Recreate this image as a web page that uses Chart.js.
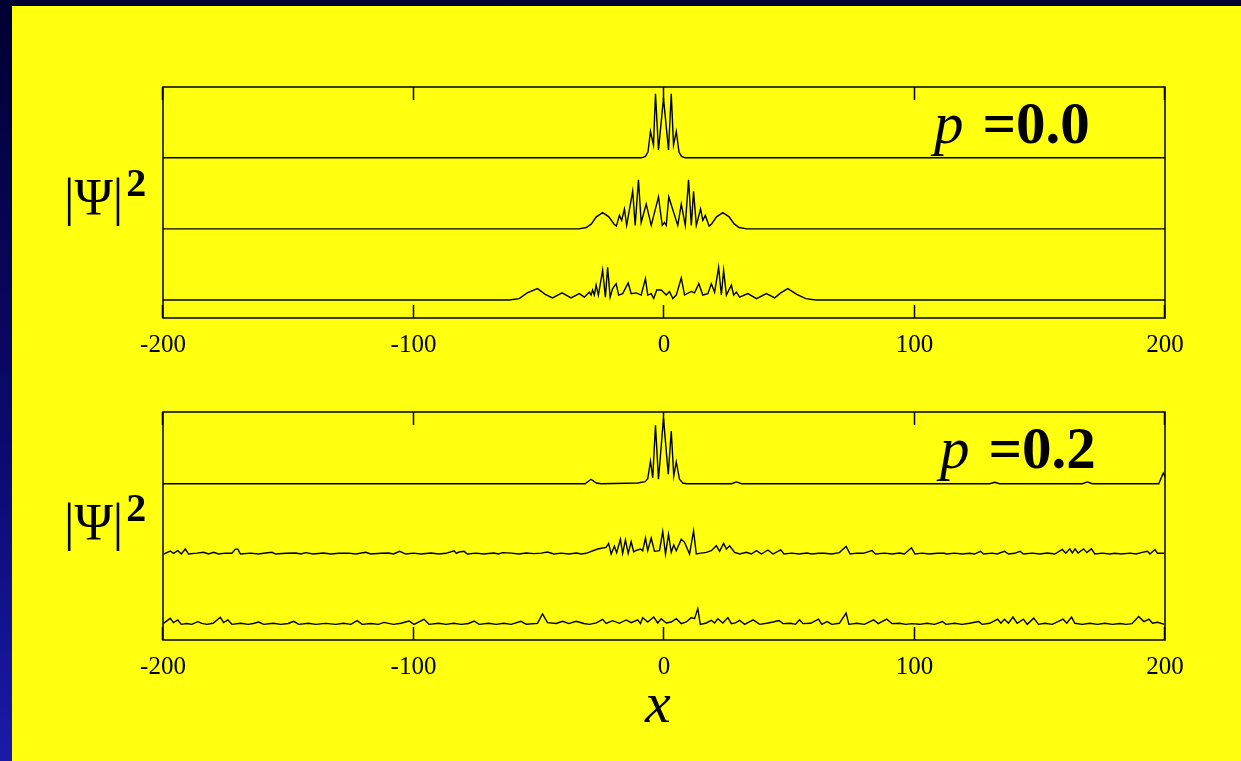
<!DOCTYPE html>
<html>
<head>
<meta charset="utf-8">
<script src="https://cdn.jsdelivr.net/npm/chart.js@4.4.1/dist/chart.umd.min.js"></script>
<style>
  html, body { margin: 0; padding: 0; }
  body {
    width: 1241px; height: 761px; overflow: hidden; position: relative;
    background: linear-gradient(to bottom, #000033 0%, #0a0a70 60%, #1a1aa8 100%);
    font-family: "Liberation Serif", "DejaVu Serif", serif;
  }
  #sheet { position: absolute; left: 12px; top: 6px; right: 0; bottom: 0; background: #ffff10; }
  canvas { position: absolute; left: 0; }
  .lbl { position: absolute; color: #000; white-space: nowrap; line-height: 1; }
  .psi { font-size: 52px; }
  .psi b { font-size: 40px; position: relative; top: -19px; margin-left: 3px; }
  .pval { font-size: 59px; }
  .pval i { margin-right: 19px; }
  .xlab { font-size: 58px; font-style: italic; }
</style>
</head>
<body>
<div id="sheet"></div>
<canvas id="top-chart" width="1241" height="380" style="top:0"></canvas>
<canvas id="bottom-chart" width="1241" height="381" style="top:380px"></canvas>

<div class="lbl psi" style="left:64px; top:172px">|Ψ|<b>2</b></div>
<div class="lbl psi" style="left:64px; top:497px">|Ψ|<b>2</b></div>
<div class="lbl pval" style="left:934px; top:94px"><i>p</i><b>=0.0</b></div>
<div class="lbl pval" style="left:940px; top:419px"><i>p</i><b>=0.2</b></div>
<div class="lbl xlab" style="left:645px; top:674px">x</div>

<script>
// ============================================================
// |Psi|^2 wave packets at three times, p = 0.0 and p = 0.2
// ============================================================

const X_TICKS = [-200, -100, 0, 100, 200];

// p = 0.0 (values relative to each curve's own baseline)
const p00_early = [[-200,0],[-9,0],[-7.4,0.02],[-6.4,0.08],[-5.4,0.37],[-4.2,0.18],[-3.4,0.9],[-2.2,0.11],[-0.2,0.84],[1.8,0.11],[2.9,0.9],[3.8,0.18],[4.9,0.37],[6.0,0.08],[7.0,0.02],[8.5,0],[200,0]];

const p00_mid = [[-200,0],[-34,0],[-31,0.02],[-29,0.07],[-27,0.17],[-24.5,0.23],[-22,0.17],[-20,0.07],[-19,0.04],[-17.8,0.19],[-16.9,0.12],[-15.8,0.28],[-14.9,0.05],[-12.5,0.53],[-11.5,0.05],[-10.2,0.69],[-9.1,0.09],[-7.1,0.35],[-5.1,0.05],[-2.2,0.45],[-0.7,0.05],[0.2,0.09],[0.9,0.05],[1.9,0.45],[5.5,0.05],[6.9,0.35],[8.5,0.05],[9.8,0.69],[10.9,0.05],[11.8,0.53],[12.9,0.05],[14.6,0.28],[15.5,0.12],[16.5,0.19],[18,0.04],[19,0.07],[21,0.17],[23.5,0.23],[26,0.17],[28,0.07],[30,0.02],[33,0],[200,0]];

const p00_late = [[-200,0],[-61.8,0],[-57.8,0.02],[-54.6,0.1],[-50.5,0.16],[-47.4,0.08],[-44.5,0.03],[-40.7,0.1],[-37.1,0.03],[-33.8,0.09],[-31.8,0.04],[-29.8,0.11],[-29.1,0.07],[-28.5,0.14],[-27.8,0.07],[-27.1,0.21],[-26.2,0.07],[-24.5,0.42],[-23.4,0.04],[-22.5,0.46],[-21.5,0.04],[-20.5,0.16],[-19.1,0.23],[-18.1,0.07],[-16.5,0.09],[-14.3,0.24],[-13.1,0.09],[-11.1,0.1],[-9.1,0.07],[-7.4,0.3],[-6.5,0.07],[-5.1,0.09],[-4.1,0.02],[-2.9,0.14],[-1.1,0.14],[0.9,0.07],[2.2,0.12],[3.5,0.02],[4.9,0.07],[6.9,0.31],[8.2,0.07],[10.9,0.12],[12.2,0.1],[13.9,0.23],[15.5,0.07],[17.5,0.09],[18.9,0.23],[20.2,0.11],[21.8,0.46],[22.9,0.07],[23.8,0.42],[24.9,0.07],[26.9,0.21],[27.8,0.07],[28.9,0.11],[30.2,0.04],[33.5,0.09],[36.9,0.02],[40.9,0.09],[44.2,0.03],[46.6,0.1],[49.4,0.16],[53,0.08],[56.6,0.02],[60.6,0],[200,0]];

// p = 0.2
const p02_early = [[-200,0],[-31.5,0],[-29.1,0.063],[-27,0.01],[-25,0],[-10.5,0.01],[-7.5,0.03],[-6.5,0.07],[-5.4,0.32],[-4.5,0.085],[-3.4,0.83],[-2.2,0.063],[-0.2,0.93],[1.7,0.134],[2.9,0.75],[3.9,0.11],[4.9,0.31],[6.2,0.063],[7.5,0.01],[9,0],[27,0],[28.9,0.025],[31,0],[130,0],[132,0.02],[134,0],[167,0],[169,0.025],[171,0],[197.5,0],[199.3,0.15],[200,0.1]];

const p02_mid = [[-199.8,0],[-197.1,0.043],[-195.8,0.01],[-194.1,0.047],[-192.7,0],[-191.1,0.071],[-189.8,0],[-186.5,0.012],[-183.8,0.024],[-181.8,0],[-179.8,0.024],[-177.8,0],[-175,0.012],[-172.5,0.01],[-171.1,0.07],[-170.1,0.07],[-169.1,0],[-165,0.012],[-162,0],[-159,0.015],[-156.5,0.024],[-155,0],[-151,0.01],[-147,0.015],[-145,0],[-143.1,0.02],[-140,0],[-136,0.015],[-133,0],[-129.8,0.01],[-126,0.012],[-123,0],[-119.1,0.024],[-117,0],[-113,0.01],[-110,0.015],[-108,0],[-105.5,0.038],[-103.1,0],[-100,0.012],[-97,0],[-93,0.015],[-90,0],[-87,0.01],[-83.8,0.047],[-82.9,0.01],[-81.8,0.028],[-79.8,0.038],[-78.5,0],[-75,0.012],[-72,0],[-68,0.015],[-66,0],[-64.5,0.02],[-61,0.012],[-58,0],[-55,0.015],[-52,0.005],[-49,0.012],[-46.5,0.028],[-44,0],[-41,0.012],[-38,0],[-35,0.015],[-33,0],[-31.1,0.01],[-26.5,0.071],[-23.1,0.095],[-22.1,0.15],[-21.1,0],[-19.8,0.11],[-18.9,0.02],[-17.4,0.21],[-16.5,0.01],[-15.4,0.2],[-14.3,0.01],[-13.1,0.175],[-12.1,0.03],[-11.4,0.047],[-9.4,0.071],[-8.5,0.047],[-7.4,0.227],[-6.5,0.047],[-5.1,0.227],[-3.8,0.038],[-1.8,0.047],[-0.5,0.32],[0.6,0],[1.8,0.28],[2.9,0.024],[3.9,0.13],[4.9,0.047],[6.9,0.21],[8.2,0.166],[10.2,0],[11.8,0.33],[12.9,0],[14.8,0.012],[16.9,0.024],[18.9,0.047],[20.9,0.118],[22.2,0.038],[23.8,0.152],[24.9,0.071],[26.2,0.118],[28.2,0.024],[30.2,0],[32.9,0.024],[34.9,0],[36.9,0.047],[38.9,0],[41.5,0.057],[43.5,0],[46.6,0.059],[47.9,0],[51,0.012],[54,0],[57,0.015],[59,0],[61.7,0.01],[64,0.01],[67,0],[70,0.02],[72.7,0.108],[74.3,0],[77,0.012],[79.6,0.01],[83,0.049],[84.4,0],[88,0.012],[91,0],[94,0.015],[96,0],[98.8,0.088],[100.2,0],[103,0.012],[106,0],[109,0.01],[111.8,0.01],[113,0],[116,0.012],[119,0],[122,0.01],[124,0],[126.3,0.039],[127.6,0],[131,0.012],[133,0],[135.9,0.039],[137.5,0],[140,0.01],[142.1,0.039],[143.5,0],[147,0.012],[150,0],[153,0.015],[156,0],[159,0.064],[160.4,0.01],[162,0.073],[163,0.015],[164.1,0.073],[165.3,0.015],[167.5,0.073],[168.8,0.02],[170.6,0.073],[172,0],[175,0.012],[178,0],[180,0.01],[182.6,0],[186,0.012],[188.5,0],[190.9,0.024],[193,0.039],[194,0],[196,0.064],[197,0.01],[199.8,0.01]];

const p02_late = [[-199.8,0.014],[-197.1,0.085],[-195.8,0.024],[-194.1,0.062],[-192.7,0],[-190.5,0.012],[-188.5,0],[-186.1,0.038],[-184.5,0.014],[-182.5,0],[-180,0.015],[-177.1,0.1],[-175.8,0.024],[-174.1,0.062],[-172.5,0],[-169,0.015],[-166,0],[-164,0.012],[-161.8,0.033],[-159.8,0],[-156,0.015],[-153,0],[-150,0.012],[-147.8,0.043],[-145.8,0],[-142,0.015],[-139,0],[-135.1,0.014],[-131,0],[-128,0.015],[-125,0],[-122.5,0.052],[-120.5,0],[-117,0.012],[-114,0],[-111.8,0.028],[-108,0],[-105,0.015],[-101.8,0.047],[-99.8,0],[-95.8,0.071],[-93.8,0],[-90,0.015],[-87,0],[-84,0.015],[-81,0],[-78,0.012],[-75.8,0.047],[-73.8,0],[-70,0.015],[-67,0],[-64,0.015],[-61,0],[-57.1,0.043],[-55,0],[-50.5,0.014],[-48.5,0.147],[-46.5,0.024],[-43,0.012],[-40.5,0.043],[-38,0.01],[-35.1,0.043],[-32,0.012],[-29.8,0],[-27,0.02],[-24.5,0.071],[-23.1,0.014],[-20.5,0.052],[-17.8,0.014],[-15.1,0.062],[-13.1,0.024],[-10.5,0.065],[-9.4,0.01],[-8.5,0.095],[-6.5,0.033],[-4.1,0.104],[-2.5,0.019],[-1.1,0.08],[0.9,0.019],[2.9,0.033],[4.9,0.08],[6.9,0.01],[8.9,0.033],[10.9,0.095],[12.2,0.08],[13.5,0.223],[14.5,0],[16.9,0.019],[18.9,0.057],[20.2,0.019],[21.5,0.08],[23.5,0.019],[25.5,0.095],[26.9,0.01],[28.5,0.02],[30.2,0.057],[32.2,0],[35.6,0.064],[38.2,0],[41,0.015],[43.5,0.033],[45.9,0.054],[47.5,0.01],[50.5,0.015],[52.5,0],[54.1,0.064],[55.5,0.01],[58.5,0.015],[61.7,0.073],[63,0],[65.1,0.039],[67,0],[70,0.015],[72.7,0.161],[73.8,0],[77,0.015],[80,0],[83.7,0.064],[85.5,0.01],[88.9,0.073],[91,0.01],[94,0.015],[96.5,0],[98.8,0.01],[102,0],[105,0.015],[108,0],[111.2,0.039],[112.5,0],[116,0.015],[119,0],[122,0.015],[125.6,0.039],[127,0],[130,0.015],[133.2,0.073],[134.5,0.015],[135.9,0.073],[137.5,0.015],[139.3,0.103],[141,0.015],[143.5,0.073],[145,0],[147.6,0.088],[149.5,0],[152,0.015],[155,0],[159.3,0.073],[160.8,0.015],[162.7,0.103],[164,0.015],[167,0],[170,0.015],[173,0],[176,0.015],[179,0],[182,0.012],[184.5,0],[186.8,0.01],[189.5,0.112],[191.6,0.039],[193.6,0.073],[195,0.015],[197,0.03],[199.8,0]];

// curves are stacked: earliest on top
const STACK_OFFSETS = [2, 1, 0];

const TICK_LEN = 13;

// box + inward tick marks, drawn from the x scale
const framePlugin = {
  id: 'frame',
  afterDraw(chart) {
    const { ctx, chartArea: a, scales } = chart;
    ctx.save();
    ctx.strokeStyle = '#000';
    ctx.lineWidth = 1.5;
    ctx.strokeRect(a.left, a.top, a.right - a.left, a.bottom - a.top);
    X_TICKS.forEach(v => {
      const px = Math.round(scales.x.getPixelForValue(v)) - 0.5;
      ctx.beginPath();
      ctx.moveTo(px, a.top);
      ctx.lineTo(px, a.top + TICK_LEN);
      ctx.moveTo(px, a.bottom);
      ctx.lineTo(px, a.bottom - TICK_LEN);
      ctx.stroke();
    });
    ctx.restore();
  }
};

function makePanel(canvasId, curves, yMin, yMax, padding) {
  const canvas = document.getElementById(canvasId);
  return new Chart(canvas, {
    type: 'line',
    data: {
      datasets: curves.map((pts, i) => ({
        data: pts.map(([x, y]) => ({ x, y: y + STACK_OFFSETS[i] })),
        borderColor: '#000',
        borderWidth: 1.4,
        pointRadius: 0,
        tension: 0,
        fill: false
      }))
    },
    options: {
      responsive: false,
      animation: false,
      layout: { padding },
      plugins: { legend: { display: false }, tooltip: { enabled: false } },
      scales: {
        x: {
          type: 'linear',
          min: -200,
          max: 200,
          afterBuildTicks: s => { s.ticks = X_TICKS.map(v => ({ value: v })); },
          afterFit: s => { s.height = 62; },
          grid: { display: false, drawTicks: false },
          border: { display: false },
          ticks: {
            color: '#000',
            padding: 12,
            maxRotation: 0,
            font: { family: 'Liberation Serif', size: 25 }
          }
        },
        y: { display: false, min: yMin, max: yMax }
      }
    },
    plugins: [framePlugin]
  });
}

makePanel('top-chart', [p00_early, p00_mid, p00_late], -0.253, 2.996,
  { left: 163, right: 76, top: 87, bottom: 0 });
makePanel('bottom-chart', [p02_early, p02_mid, p02_late], -0.223, 3.02,
  { left: 163, right: 76, top: 32, bottom: 59 });
</script>
</body>
</html>
